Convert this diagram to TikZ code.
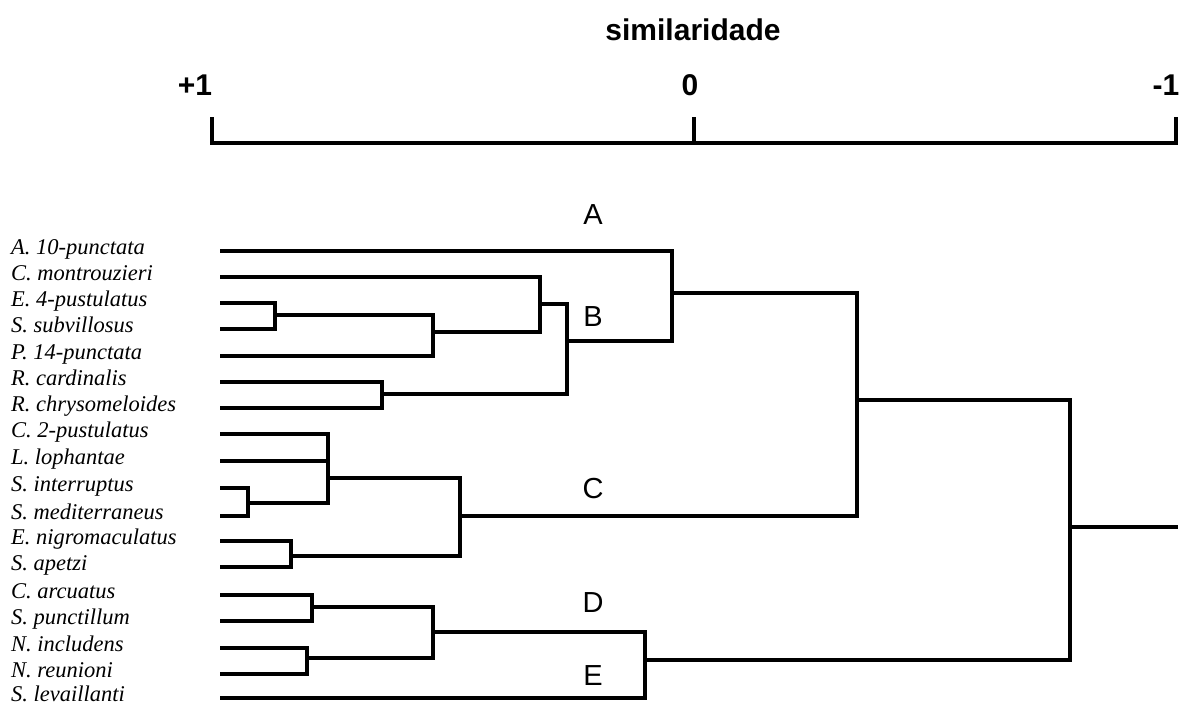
\documentclass[tikz,border=0pt]{standalone}
\usepackage{fontspec}
\setmainfont{Liberation Serif}
\newfontfamily\arialf{Liberation Sans}
\begin{document}
\begin{tikzpicture}[x=1pt,y=-1pt,
  br/.style={line width=3.2pt,line join=miter},
  leaflabel/.style={anchor=base west,inner sep=0pt,font=\fontsize{22.5}{22.5}\selectfont\itshape},
  axislabel/.style={inner sep=0pt,anchor=base,font=\arialf\bfseries\fontsize{30}{30}\selectfont},
  grouplabel/.style={inner sep=0pt,anchor=base,font=\arialf\fontsize{29}{29}\selectfont}]
\useasboundingbox (0,0) rectangle (1183,704);
% axis
\node[axislabel] (title) at (693,40) {similaridade};
\node[axislabel] (pone) at (195,95) {+1};
\node[axislabel] (zero) at (690,95) {0};
\node[axislabel] (mone) at (1166,95) {-1};
\coordinate (t1) at (212,117);
\coordinate (t1b) at (212,143);
\coordinate (t2) at (694,117);
\coordinate (t2b) at (694,143);
\coordinate (t3) at (1176,117);
\coordinate (t3b) at (1176,143);
\draw[br] (t1) -- (t1b) -- (t3b) -- (t3);
\draw[br] (t2) -- (t2b);
% leaves
\foreach \i/\y/\t in {1/251/{A. 10-punctata},2/277/{C. montrouzieri},3/303/{E. 4-pustulatus},4/329/{S. subvillosus},5/356/{P. 14-punctata},6/382/{R. cardinalis},7/408/{R. chrysomeloides},8/434/{C. 2-pustulatus},9/461/{L. lophantae},10/488/{S. interruptus},11/516/{S. mediterraneus},12/541/{E. nigromaculatus},13/567/{S. apetzi},14/595/{C. arcuatus},15/621/{S. punctillum},16/648/{N. includens},17/674/{N. reunioni},18/698/{S. levaillanti}}{
  \node[leaflabel] (lab\i) at (11,\y+3) {\t};
  \coordinate (L\i) at (220,\y);
}
% junctions
\coordinate (ja) at (275,315);
\coordinate (jb) at (433,332);
\coordinate (jc) at (540,304);
\coordinate (jd) at (382,394);
\coordinate (je) at (567,341);
\coordinate (jf) at (672,293);
\coordinate (jg) at (248,503);
\coordinate (jh) at (328,478);
\coordinate (ji) at (291,556);
\coordinate (jj) at (460,516);
\coordinate (jk) at (857,400);
\coordinate (jl) at (312,607);
\coordinate (jm) at (307,658);
\coordinate (jn) at (433,632);
\coordinate (jo) at (645,660);
\coordinate (jr) at (1070,527);
\coordinate (rootend) at (1178,527);
% tree
\draw[br] (L3) -| (ja) |- (L4);
\draw[br] (ja) -| (jb) |- (L5);
\draw[br] (L2) -| (jc) |- (jb);
\draw[br] (L6) -| (jd) |- (L7);
\draw[br] (jc) -| (je) |- (jd);
\draw[br] (L1) -| (jf) |- (je);
\draw[br] (L10) -| (jg) |- (L11);
\draw[br] (L8) -| (jh) |- (jg);
\draw[br] (L9) -- (L9 -| jh);
\draw[br] (L12) -| (ji) |- (L13);
\draw[br] (jh) -| (jj) |- (ji);
\draw[br] (jf) -| (jk) |- (jj);
\draw[br] (L14) -| (jl) |- (L15);
\draw[br] (L16) -| (jm) |- (L17);
\draw[br] (jl) -| (jn) |- (jm);
\draw[br] (jn) -| (jo) |- (L18);
\draw[br] (jk) -| (jr) |- (jo);
\draw[br] (jr) -- (rootend);
% group letters
\node[grouplabel] (gA) at (593,224) {A};
\node[grouplabel] (gB) at (593,326) {B};
\node[grouplabel] (gC) at (593,498) {C};
\node[grouplabel] (gD) at (593,612) {D};
\node[grouplabel] (gE) at (593,685) {E};
\end{tikzpicture}
\end{document}
